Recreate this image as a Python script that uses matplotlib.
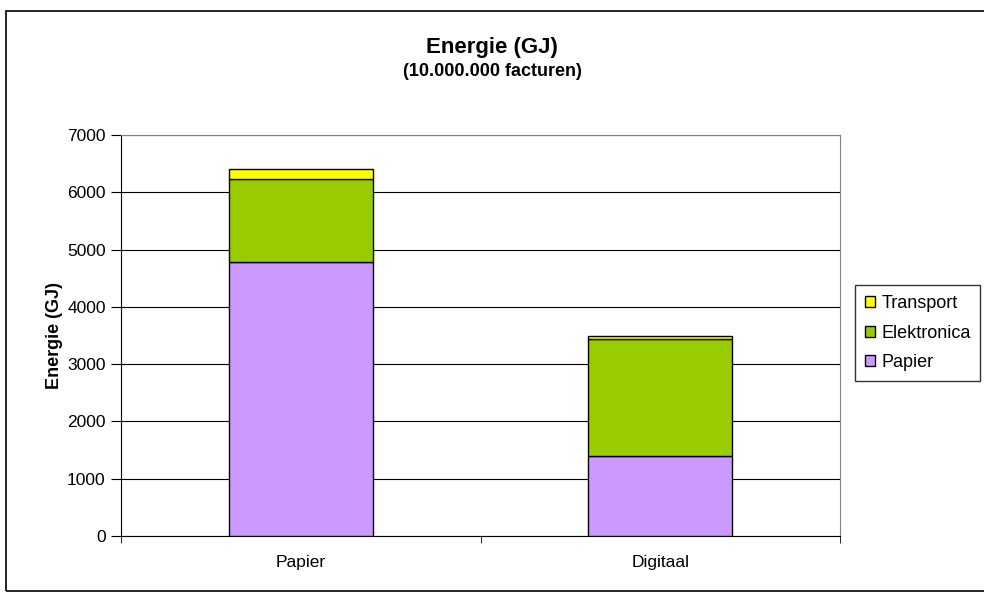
import matplotlib.pyplot as plt
from matplotlib.patches import Patch, Rectangle

plt.rcParams['font.family'] = ['Liberation Sans', 'DejaVu Sans']

# data
categories = ['Papier', 'Digitaal']
papier = [4785, 1390]
elektronica = [1447, 2045]
transport = [180, 55]

series_names = ['Papier', 'Elektronica', 'Transport']
colors = ['#cc99ff', '#99cc00', '#ffff00']

fig = plt.figure(figsize=(9.84, 5.92), dpi=100)
ax = fig.add_axes([121 / 984, 1 - 536 / 592, 719 / 984, 401 / 592])

# outer chart border
fig.patches.append(Rectangle((6 / 984, 0.002), 1.2, 1 - 11 / 592 - 0.002,
                             transform=fig.transFigure, fill=False,
                             edgecolor='black', linewidth=1.2))

x = range(len(categories))
bottom = [0, 0]
for vals, name, col in zip([papier, elektronica, transport], series_names, colors):
    ax.bar(x, vals, width=0.4, bottom=bottom, color=col, edgecolor='black',
           linewidth=1.0, label=name, zorder=3)
    bottom = [b + v for b, v in zip(bottom, vals)]

ax.set_xlim(-0.5, 1.5)
ax.set_ylim(0, 7000)
ax.set_yticks(range(0, 7001, 1000))
ax.yaxis.grid(True, color='black', linewidth=0.8, zorder=0)
ax.set_xticks([0, 1])
ax.set_xticklabels(categories, fontsize=12.5)
ax.set_xticks([-0.5, 0.5, 1.5], minor=True)
ax.tick_params(axis='x', which='major', length=0, pad=14)
ax.tick_params(axis='x', which='minor', length=5, direction='out')
ax.tick_params(axis='y', length=7, direction='out', labelsize=12.5, pad=4)

for side in ['top', 'right']:
    ax.spines[side].set_color('#808080')
for side in ['left', 'bottom']:
    ax.spines[side].set_color('black')

ax.set_ylabel('Energie (GJ)', fontsize=13, fontweight='bold', labelpad=3)

fig.text(0.5, 1 - 47 / 592, 'Energie (GJ)', ha='center', va='center',
         fontsize=16, fontweight='bold')
fig.text(0.5, 1 - 72 / 592, '(10.000.000 facturen)', ha='center', va='center',
         fontsize=13, fontweight='bold')

handles = [Patch(facecolor=c, edgecolor='black', label=n)
           for n, c in zip(series_names[::-1], colors[::-1])]
leg = fig.legend(handles=handles, loc='upper left',
                 bbox_to_anchor=(855 / 984, 1 - 285 / 592), fontsize=13,
                 frameon=True, fancybox=False, edgecolor='black',
                 handlelength=0.55, handleheight=0.55, handletextpad=0.35,
                 borderpad=0.55, labelspacing=0.7, borderaxespad=0)
leg.get_frame().set_linewidth(1.0)

fig.savefig('out.png', dpi=100)
